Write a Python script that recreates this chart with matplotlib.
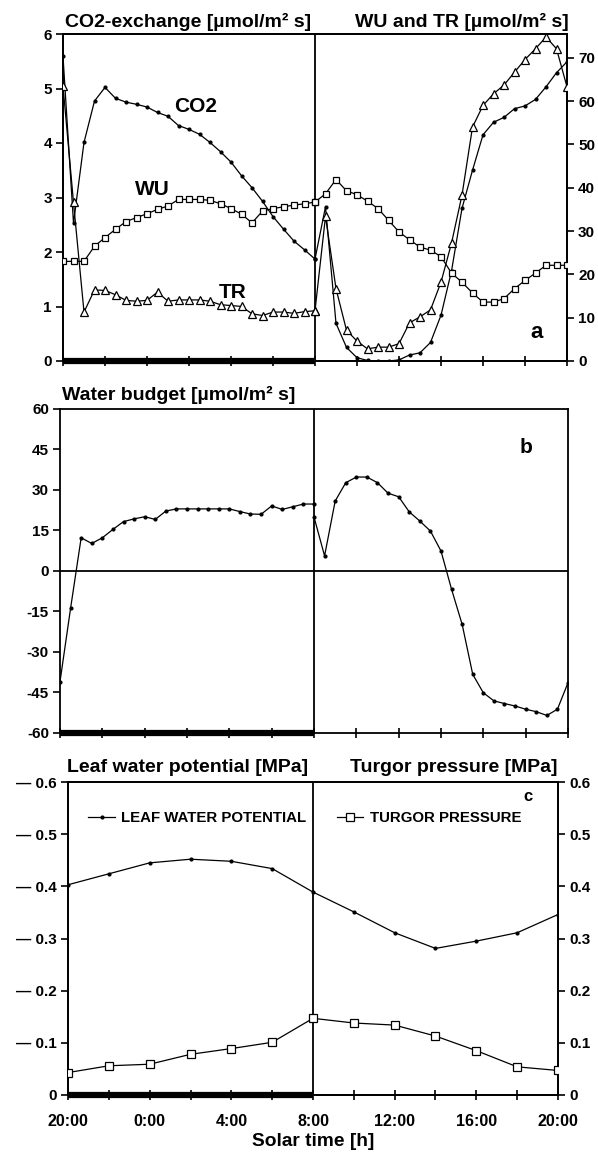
import numpy as np
import matplotlib
matplotlib.use("Agg")
import matplotlib.pyplot as plt
from matplotlib.ticker import FuncFormatter

plt.rcParams['font.family'] = ['Liberation Sans', 'DejaVu Sans']
plt.rcParams['font.weight'] = 'bold'
plt.rcParams['axes.unicode_minus'] = False

# ---------------- data ----------------
# time in hours after 20:00 (solar time)
t_night = np.arange(0, 12.01, 0.5)
t_day = np.arange(12, 24.01, 0.5)
t_2h = np.arange(0, 24.01, 2)
tick_hours = [0, 4, 8, 12, 16, 20, 24]
tick_labels = ['20:00', '0:00', '4:00', '8:00', '12:00', '16:00', '20:00']
dark_period = [0, 12]
light_start = 12

# panel a
co2_night = [5.59, 2.53, 4.01, 4.77, 5.02, 4.82, 4.75, 4.71, 4.66, 4.56, 4.49, 4.32, 4.25,
             4.16, 4.01, 3.84, 3.65, 3.40, 3.18, 2.93, 2.65, 2.42, 2.20, 2.04, 1.87]
co2_day = [1.87, 2.83, 0.69, 0.25, 0.06, 0.01, 0.0, 0.0, 0.02, 0.11, 0.15, 0.34, 0.84,
           1.65, 2.80, 3.50, 4.15, 4.38, 4.47, 4.63, 4.68, 4.80, 5.03, 5.29, 5.49]
wu_night = [23.0, 23.0, 23.0, 26.5, 28.5, 30.4, 32.2, 33.1, 34.0, 35.0, 35.8, 37.3, 37.3,
            37.3, 37.1, 36.3, 35.2, 33.9, 31.9, 34.6, 35.2, 35.6, 36.0, 36.3, 36.7]
wu_day = [36.7, 38.6, 41.9, 39.3, 38.4, 36.9, 35.2, 32.5, 29.8, 28.0, 26.3, 25.6, 24.1,
          20.3, 18.2, 15.7, 13.6, 13.6, 14.4, 16.7, 18.6, 20.3, 22.1, 22.1, 22.1]
tr_night = [63.5, 36.6, 11.3, 16.4, 16.3, 15.3, 14.0, 13.8, 14.0, 15.9, 13.8, 14.1, 14.1,
            14.1, 13.8, 13.0, 12.8, 12.6, 10.9, 10.5, 11.3, 11.3, 11.0, 11.4, 11.6]
tr_day = [11.6, 33.4, 16.7, 7.1, 4.6, 2.8, 3.2, 3.2, 4.0, 8.8, 10.2, 11.8, 18.2,
          27.2, 38.3, 54.0, 59.0, 61.7, 63.7, 66.7, 69.6, 72.1, 74.8, 72.1, 63.3]

# panel b
wb_night = [-41.0, -13.8, 12.3, 10.2, 12.3, 15.4, 18.3, 19.3, 20.1, 19.1, 22.2, 23.0, 23.0,
            23.0, 23.0, 23.0, 23.0, 22.0, 21.1, 21.0, 24.1, 22.8, 23.8, 24.8, 24.8]
wb_day = [20.0, 5.6, 25.9, 32.7, 34.8, 34.8, 32.7, 28.8, 27.5, 21.9, 18.5, 14.8, 7.4,
          -6.8, -19.8, -38.3, -45.1, -48.1, -49.1, -50.0, -51.2, -52.1, -53.5, -51.2, -41.4]

# panel c
leaf_wp = [-0.403, -0.424, -0.445, -0.452, -0.448, -0.434, -0.389,
           -0.351, -0.311, -0.281, -0.295, -0.311, -0.346]
turgor = [0.043, 0.056, 0.059, 0.078, 0.089, 0.101, 0.147,
          0.138, 0.134, 0.113, 0.085, 0.054, 0.047]

# ---------------- figure ----------------
W, H = 598, 1154
fig = plt.figure(figsize=(W / 100, H / 100), dpi=100)


def rect(l, r, t, b):
    return [l / W, 1 - b / H, (r - l) / W, (b - t) / H]


axA = fig.add_axes(rect(63, 567, 34, 361))
axB = fig.add_axes(rect(60, 568, 409, 733))
axC = fig.add_axes(rect(68, 558, 782, 1095))

LW = 0.9
TICKFS = 11
TITLEFS = 14
for ax in (axA, axB, axC):
    ax.set_xlim(0, 24)
    ax.set_xticks(t_2h)
    ax.tick_params(axis='x', direction='inout', length=7, width=1.2, labelbottom=False)
    ax.tick_params(axis='y', direction='out', length=5, width=1.2, labelsize=TICKFS, pad=3)
    for s in ax.spines.values():
        s.set_linewidth(1.3)
    ax.axvline(light_start, color='black', lw=1.3, zorder=1)
    ax.plot(dark_period, [0, 0], transform=ax.get_xaxis_transform(), color='black',
            lw=4.5, solid_capstyle='butt', clip_on=False, zorder=6)

# ---- panel a ----
axA.set_ylim(0, 6)
axA.set_yticks(range(0, 7))
axA2 = axA.twinx()
axA2.set_ylim(0, 75.5)
axA2.set_yticks(range(0, 71, 10))
axA2.tick_params(axis='y', direction='out', length=5, width=1.2, labelsize=TICKFS, pad=3)
for s in axA2.spines.values():
    s.set_linewidth(1.3)

for t, y in ((t_night, co2_night), (t_day, co2_day)):
    axA.plot(t, y, color='black', lw=LW, marker='o', ms=2.0, zorder=3)
for t, y in ((t_night, wu_night), (t_day, wu_day)):
    axA2.plot(t, y, color='black', lw=LW, marker='s', ms=5.0, mfc='white', mec='black',
              mew=0.9, zorder=3)
for t, y in ((t_night, tr_night), (t_day, tr_day)):
    axA2.plot(t, y, color='black', lw=LW, marker='^', ms=6.0, mfc='white', mec='black',
              mew=0.9, zorder=4)

axA.text(6.3, 4.67, 'CO2', fontsize=15, ha='center', va='center')
axA.text(4.24, 3.15, 'WU', fontsize=15, ha='center', va='center')
axA.text(8.1, 1.26, 'TR', fontsize=15, ha='center', va='center')
axA.text(0.94, 0.086, 'a', transform=axA.transAxes, fontsize=16, ha='center', va='center')

fig.text(65 / W, 1 - 22 / H, 'CO2-exchange [µmol/m² s]', fontsize=TITLEFS, ha='left', va='center')
fig.text(569 / W, 1 - 22 / H, 'WU and TR [µmol/m² s]', fontsize=TITLEFS, ha='right', va='center')

# ---- panel b ----
axB.set_ylim(-60, 60)
axB.set_yticks(range(-60, 61, 15))
axB.axhline(0, color='black', lw=1.3, zorder=1)
axB.plot(t_night, wb_night, color='black', lw=LW, marker='o', ms=2.0, zorder=3)
axB.plot(t_day, wb_day, color='black', lw=LW, marker='o', ms=2.0, zorder=3)
axB.text(0.917, 0.88, 'b', transform=axB.transAxes, fontsize=15, ha='center', va='center')
fig.text(62 / W, 1 - 395 / H, 'Water budget [µmol/m² s]', fontsize=TITLEFS, ha='left', va='center')

# ---- panel c ----
axC.set_ylim(0, -0.6)
axC.set_yticks(np.arange(0, -0.61, -0.1))
axC.yaxis.set_major_formatter(FuncFormatter(
    lambda v, p: '0' if abs(v) < 1e-9 else '\u2014 %.1f' % abs(v)))
axC.tick_params(axis='x', labelbottom=True, labelsize=11.5, pad=10)
axC.set_xticks(t_2h)
axC.set_xticklabels([tick_labels[tick_hours.index(h)] if h in tick_hours else ''
                     for h in t_2h])
axC2 = axC.twinx()
axC2.set_ylim(0, 0.6)
axC2.set_yticks(np.arange(0, 0.61, 0.1))
axC2.yaxis.set_major_formatter(FuncFormatter(lambda v, p: '0' if abs(v) < 1e-9 else '%.1f' % v))
axC2.tick_params(axis='y', direction='out', length=5, width=1.2, labelsize=TICKFS, pad=3)
for s in axC2.spines.values():
    s.set_linewidth(1.3)

l1, = axC.plot(t_2h, leaf_wp, color='black', lw=LW, marker='o', ms=2.0, zorder=3)
l2, = axC2.plot(t_2h, turgor, color='black', lw=LW, marker='s', ms=5.5, mfc='white',
                mec='black', mew=0.9, zorder=3)

leg1 = axC2.legend([l1], ['LEAF WATER POTENTIAL'], loc='center left',
                   bbox_to_anchor=((88 - 68) / 490, (1095 - 818) / 313), frameon=False,
                   borderpad=0, borderaxespad=0, handlelength=1.8, handletextpad=0.4,
                   prop=dict(size=10.8, weight='bold'))
axC2.add_artist(leg1)
axC2.legend([l2], ['TURGOR PRESSURE'], loc='center left',
            bbox_to_anchor=((337 - 68) / 490, (1095 - 818) / 313), frameon=False,
            borderpad=0, borderaxespad=0, handlelength=1.7, handletextpad=0.5,
            prop=dict(size=10.8, weight='bold'))
axC2.text(0.939, 0.955, 'c', transform=axC2.transAxes, fontsize=12, ha='center', va='center')

fig.text(67 / W, 1 - 768 / H, 'Leaf water potential [MPa]', fontsize=TITLEFS, ha='left', va='center')
fig.text(557 / W, 1 - 768 / H, 'Turgor pressure [MPa]', fontsize=TITLEFS, ha='right', va='center')
fig.text(313 / W, 1 - 1142 / H, 'Solar time [h]', fontsize=13.8, ha='center', va='center')

fig.savefig('out.png', dpi=100)
